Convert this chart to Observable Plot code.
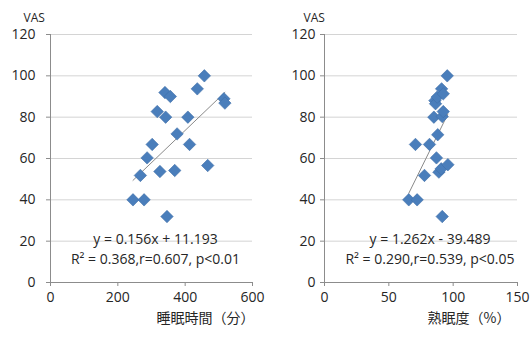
<!DOCTYPE html>
<html>
<head>
<meta charset="utf-8">
<script src="https://cdn.jsdelivr.net/npm/d3@7"></script>
<script src="https://cdn.jsdelivr.net/npm/@observablehq/plot@0.6"></script>
<style>
  html, body { margin: 0; padding: 0; background: #fff; }
  #wrap { display: flex; width: 530px; height: 337px; }
  svg { font-family: "Open Sans", "Noto Sans CJK JP", sans-serif; }
</style>
</head>
<body>
<div id="wrap"></div>
<script>
// ---- data ----
const sleepMinutes = [245, 278, 267, 287, 302, 317, 325, 340, 356, 342, 346, 376, 369, 408, 413, 436, 457, 467, 515, 518];
const vasSleep     = [40, 40, 51.8, 60.3, 66.8, 82.7, 53.7, 91.9, 90, 80, 31.9, 71.9, 54.2, 80, 66.8, 93.7, 100, 56.6, 88.9, 86.8];
const deepSleepPct = [65.5, 72, 70.7, 77.7, 81.6, 85, 85.8, 86.3, 87.6, 87, 88, 88.9, 90.7, 91, 91.5, 92.3, 91.5, 92.3, 95.4, 95.9];
const vasDeep      = [40, 40, 66.8, 51.8, 66.8, 80, 88, 86.5, 89.7, 60.3, 71.5, 53.4, 55, 93.7, 31.9, 91.3, 80.3, 82.7, 100, 57];

const leftFit  = {slope: 0.156, intercept: 11.193};
const rightFit = {slope: 1.262, intercept: -39.489};
const leftLabels  = ["y = 0.156x + 11.193", "R² = 0.368,r=0.607, p<0.01"];
const rightLabels = ["y = 1.262x - 39.489", "R² = 0.290,r=0.539, p<0.05"];
const yTicks = [0, 20, 40, 60, 80, 100, 120];
const leftXTicks = [0, 200, 400, 600];
const rightXTicks = [0, 50, 100, 150];
const yTitle = "VAS";
const leftXTitle = "睡眠時間（分）";
const rightXTitle = "熟眠度（%）";

function chart(xs, ys, fit, labels, xTicks, xTitle, opt) {
  const pts = xs.map((x, i) => ({x, y: ys[i]}));
  const x0 = d3.min(xs), x1 = d3.max(xs);
  const trend = [x0, x1].map(x => ({x, y: fit.slope * x + fit.intercept}));
  return Plot.plot({
    width: 265, height: 337,
    marginLeft: opt.ml, marginRight: opt.mr, marginTop: 34, marginBottom: 55,
    style: {fontSize: "14px", fontFamily: "'Open Sans', 'Noto Sans CJK JP', sans-serif", color: "#262626", background: "#fff"},
    x: {domain: [xTicks[0], xTicks[xTicks.length - 1]], ticks: xTicks},
    y: {domain: [0, 120], ticks: yTicks},
    marks: [
      Plot.gridY(yTicks, {stroke: "#d4d4d4", strokeOpacity: 1}),
      Plot.ruleX([xTicks[0]], {stroke: "#8c8c8c"}),
      Plot.ruleY([0], {stroke: "#8c8c8c"}),
      Plot.axisY(yTicks, {tickSize: 4, tickPadding: opt.yPad, stroke: "#8c8c8c", fill: "#262626", label: null, fontSize: 14}),
      Plot.axisX(xTicks, {tickSize: 4, tickPadding: 6, stroke: "#8c8c8c", fill: "#262626", label: null, fontSize: 14}),
      Plot.line(trend, {x: "x", y: "y", stroke: "#8a8a8a", strokeWidth: 1}),
      Plot.dot(pts, {x: "x", y: "y", symbol: "diamond2", r: 5.6, fill: "#4a7ebb", stroke: "#3f6fa8", strokeWidth: 0.6}),
      Plot.text([labels[0]], {frameAnchor: "bottom", dx: opt.tdx, dy: -39, fontSize: 14, fill: "#262626", text: d => d}),
      Plot.text([labels[1]], {frameAnchor: "bottom", dx: opt.tdx, dy: -19, fontSize: 14, fill: "#262626", text: d => d}),
      Plot.text([yTitle], {frameAnchor: "top-left", dx: opt.vdx, dy: -21, fontSize: 12, fill: "#262626", text: d => d}),
      Plot.text([xTitle], {frameAnchor: "bottom-right", textAnchor: "end", dx: opt.xdx, dy: 40, fontSize: 14, fill: "#262626", fontFamily: "'Noto Sans CJK JP', sans-serif", text: d => d})
    ]
  });
}

const wrap = document.getElementById("wrap");
wrap.append(chart(sleepMinutes, vasSleep, leftFit, leftLabels, leftXTicks, leftXTitle,
  {ml: 50, mr: 13, yPad: 11, tdx: 4, vdx: -27, xdx: 2}));
wrap.append(chart(deepSleepPct, vasDeep, rightFit, rightLabels, rightXTicks, rightXTitle,
  {ml: 59, mr: 13, yPad: 5, tdx: 9, vdx: -21, xdx: -7}));
</script>
</body>
</html>
